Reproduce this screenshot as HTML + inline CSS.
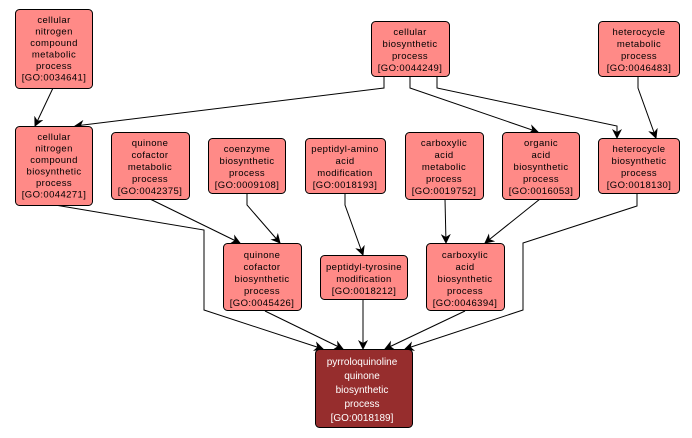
<!DOCTYPE html>
<html><head><style>body{margin:0;background:#fff}svg{display:block}</style></head><body>
<svg width="692" height="438" xmlns="http://www.w3.org/2000/svg" font-family="Liberation Sans, sans-serif" font-size="9.5">
<defs><marker id="a" markerWidth="10" markerHeight="10" refX="9" refY="5" orient="auto" markerUnits="userSpaceOnUse"><path d="M0,0 L10,5 L0,10 L3,5 z" fill="#000"/></marker></defs>
<g fill="none" stroke="#000" stroke-width="1" marker-end="url(#a)">
<path d="M53,88 L35,126"/>
<path d="M384,76 L384,88 L75,126"/>
<path d="M410,76 L410,88 L538,132"/>
<path d="M437,76 L437,88 L617,126 L617,138"/>
<path d="M638,76 L638,88 L656,138"/>
<path d="M55,205 L204,230 L204,310 L323,349"/>
<path d="M150,199 L240,243"/>
<path d="M247,193 L247,205 L280,243"/>
<path d="M345,193 L345,205 L363,255"/>
<path d="M445,199 L446,243"/>
<path d="M540,199 L485,243"/>
<path d="M637,194 L637,206 L523,243 L523,310 L405,349"/>
<path d="M265,311 L343,349"/>
<path d="M363,299 L363,349"/>
<path d="M465,311 L385,349"/>
</g>
<g fill="#ff8a87" stroke="#000" stroke-width="1">
<rect x="15.5" y="9.5" width="77" height="79" rx="4"/>
<rect x="371.5" y="21.5" width="78" height="55" rx="4"/>
<rect x="598.5" y="21.5" width="81" height="55" rx="4"/>
<rect x="15.5" y="126.5" width="77" height="79" rx="4"/>
<rect x="111.5" y="132.5" width="78" height="67" rx="4"/>
<rect x="208.5" y="138.5" width="77" height="55" rx="4"/>
<rect x="305.5" y="138.5" width="80" height="55" rx="4"/>
<rect x="405.5" y="132.5" width="78" height="67" rx="4"/>
<rect x="502.5" y="132.5" width="77" height="67" rx="4"/>
<rect x="598.5" y="138.5" width="81" height="55" rx="4"/>
<rect x="223.5" y="243.5" width="78" height="67" rx="4"/>
<rect x="320.5" y="255.5" width="87" height="44" rx="4"/>
<rect x="426.5" y="243.5" width="78" height="67" rx="4"/>
</g>
<rect x="315.5" y="349.5" width="97" height="78" rx="4" fill="#962d2d" stroke="#000"/>
<g text-anchor="middle" fill="#000" letter-spacing="0.4">
<text x="54" y="23">cellular<tspan x="54" dy="11.5">nitrogen</tspan><tspan x="54" dy="11.5">compound</tspan><tspan x="54" dy="11.5">metabolic</tspan><tspan x="54" dy="11.5">process</tspan><tspan x="54" dy="11.5">[GO:0034641]</tspan></text>
<text x="410" y="35">cellular<tspan x="410" dy="12">biosynthetic</tspan><tspan x="410" dy="12">process</tspan><tspan x="410" dy="12">[GO:0044249]</tspan></text>
<text x="639" y="35">heterocycle<tspan x="639" dy="12">metabolic</tspan><tspan x="639" dy="12">process</tspan><tspan x="639" dy="12">[GO:0046483]</tspan></text>
<text x="54" y="140">cellular<tspan x="54" dy="11.5">nitrogen</tspan><tspan x="54" dy="11.5">compound</tspan><tspan x="54" dy="11.5">biosynthetic</tspan><tspan x="54" dy="11.5">process</tspan><tspan x="54" dy="11.5">[GO:0044271]</tspan></text>
<text x="150" y="146">quinone<tspan x="150" dy="12">cofactor</tspan><tspan x="150" dy="12">metabolic</tspan><tspan x="150" dy="12">process</tspan><tspan x="150" dy="12">[GO:0042375]</tspan></text>
<text x="247" y="152">coenzyme<tspan x="247" dy="12">biosynthetic</tspan><tspan x="247" dy="12">process</tspan><tspan x="247" dy="12">[GO:0009108]</tspan></text>
<text x="345" y="152">peptidyl-amino<tspan x="345" dy="12">acid</tspan><tspan x="345" dy="12">modification</tspan><tspan x="345" dy="12">[GO:0018193]</tspan></text>
<text x="444" y="146">carboxylic<tspan x="444" dy="12">acid</tspan><tspan x="444" dy="12">metabolic</tspan><tspan x="444" dy="12">process</tspan><tspan x="444" dy="12">[GO:0019752]</tspan></text>
<text x="541" y="146">organic<tspan x="541" dy="12">acid</tspan><tspan x="541" dy="12">biosynthetic</tspan><tspan x="541" dy="12">process</tspan><tspan x="541" dy="12">[GO:0016053]</tspan></text>
<text x="639" y="152">heterocycle<tspan x="639" dy="12">biosynthetic</tspan><tspan x="639" dy="12">process</tspan><tspan x="639" dy="12">[GO:0018130]</tspan></text>
<text x="262" y="258">quinone<tspan x="262" dy="12">cofactor</tspan><tspan x="262" dy="12">biosynthetic</tspan><tspan x="262" dy="12">process</tspan><tspan x="262" dy="12">[GO:0045426]</tspan></text>
<text x="364" y="270">peptidyl-tyrosine<tspan x="364" dy="12">modification</tspan><tspan x="364" dy="12">[GO:0018212]</tspan></text>
<text x="465" y="258">carboxylic<tspan x="465" dy="12">acid</tspan><tspan x="465" dy="12">biosynthetic</tspan><tspan x="465" dy="12">process</tspan><tspan x="465" dy="12">[GO:0046394]</tspan></text>
</g>
<text x="362" y="365" text-anchor="middle" fill="#fff" font-size="10">pyrroloquinoline<tspan x="362" dy="14">quinone</tspan><tspan x="362" dy="14">biosynthetic</tspan><tspan x="362" dy="14">process</tspan><tspan x="362" dy="14">[GO:0018189]</tspan></text>
</svg>
</body></html>
